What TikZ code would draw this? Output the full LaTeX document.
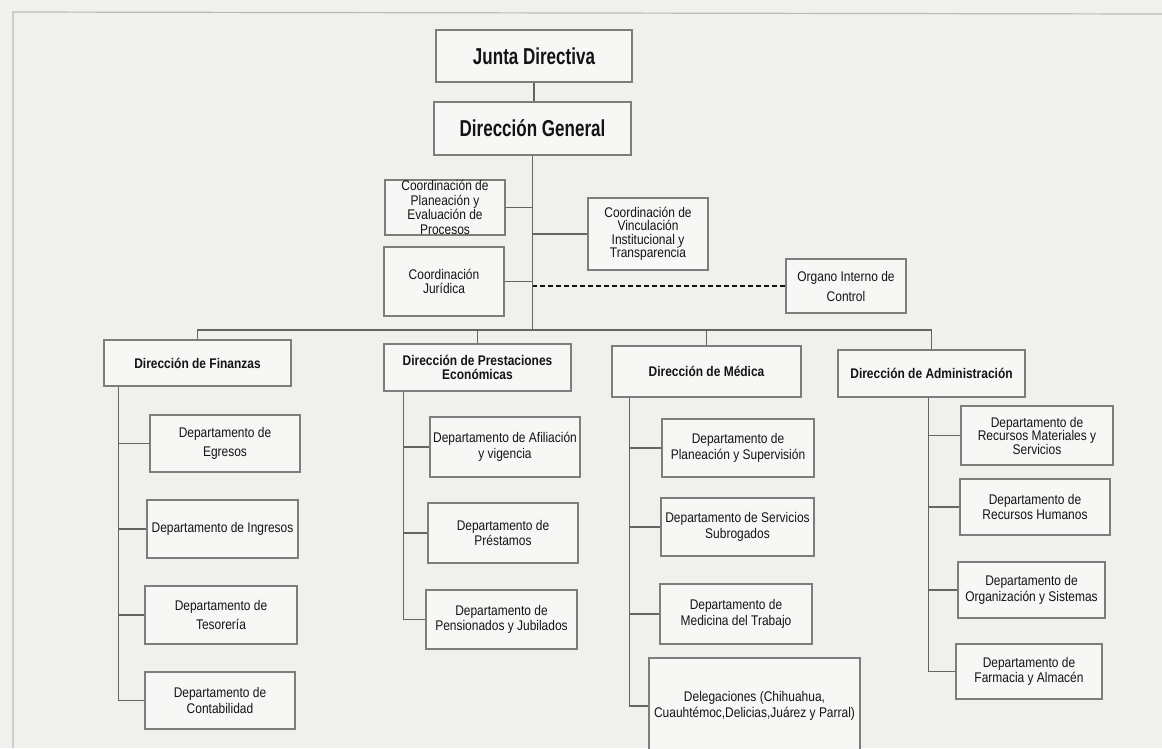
\documentclass[tikz,border=0pt]{standalone}
\usepackage{fontspec}
\setmainfont{Liberation Sans}[FakeStretch=0.855]
\newfontfamily\condfont{Liberation Sans}[FakeStretch=0.74]
\definecolor{paper}{RGB}{240,240,237}
\definecolor{boxfill}{RGB}{247,247,245}
\definecolor{boxline}{RGB}{125,125,125}
\definecolor{linegray}{RGB}{100,100,100}
\definecolor{ink}{RGB}{20,20,20}

\begin{document}
\begin{tikzpicture}[x=1pt,y=-1pt,
  box/.style={draw=boxline,fill=boxfill,line width=1.1pt,inner sep=0pt,align=center,text=ink},
  wh/.style 2 args={minimum width=#1pt,minimum height=#2pt},
  head/.style={box,font=\condfont\bfseries\fontsize{23}{27}\selectfont},
  dir/.style={box,font=\bfseries\fontsize{14}{14}\selectfont},
  dept/.style={box,font=\fontsize{14}{15.5}\selectfont},
  conn/.style={draw=linegray,line width=1.2pt}]
\useasboundingbox (0,0) rectangle (1162,748);
\fill[paper] (0,0) rectangle (1162,748);
\clip (0,0) rectangle (1162,748);
\draw[gray!55,line width=1.2pt] (13,748) -- (13,12) -- (1162,14);

\node[head,wh={196}{52}] (junta) at (534,56) {Junta Directiva};
\node[head,wh={197}{53}] (dg) at (532.5,128.5) {Dirección General};

\node[dept,wh={120}{55},font=\fontsize{14}{14.5}\selectfont] (plan) at (445,207.5) {Coordinación de\\Planeación y\\Evaluación de\\Procesos};
\node[dept,wh={120}{69},font=\fontsize{14}{13.5}\selectfont] (jur) at (444,281.5) {Coordinación\\Jurídica};
\node[dept,wh={120}{72},font=\fontsize{14}{13.5}\selectfont] (vinc) at (648,234) {Coordinación de\\Vinculación\\Institucional y\\Transparencia};
\node[dept,wh={120}{54},font=\fontsize{14}{20}\selectfont] (org) at (846,286) {Organo Interno de\\Control};

\node[dir,wh={187}{46}] (fin) at (197.5,363) {Dirección de Finanzas};
\node[dir,wh={187}{47}] (prest) at (477.5,367.5) {Dirección de Prestaciones\\Económicas};
\node[dir,wh={189}{51}] (med) at (706.5,371.5) {Dirección de Médica};
\node[dir,wh={187}{47}] (adm) at (931.5,373.5) {Dirección de Administración};

\node[dept,wh={150}{57},font=\fontsize{14}{19}\selectfont] (egr) at (225,443.5) {Departamento de\\Egresos};
\node[dept,wh={151}{58}] (ing) at (222.5,529) {Departamento de Ingresos};
\node[dept,wh={152}{58},font=\fontsize{14}{19}\selectfont] (tes) at (221,615) {Departamento de\\Tesorería};
\node[dept,wh={150}{57}] (cont) at (220,700.5) {Departamento de\\Contabilidad};

\node[dept,wh={150}{60}] (afil) at (505,447) {Departamento de Afiliación\\y vigencia};
\node[dept,wh={150}{60}] (prst) at (503,533) {Departamento de\\Préstamos};
\node[dept,wh={151}{59}] (pens) at (501.5,619.5) {Departamento de\\Pensionados y Jubilados};

\node[dept,wh={152}{58}] (psup) at (738,448) {Departamento de\\Planeación y Supervisión};
\node[dept,wh={153}{58}] (subr) at (737.5,527) {Departamento de Servicios\\Subrogados};
\node[dept,wh={152}{60}] (mtrab) at (736,614) {Departamento de\\Medicina del Trabajo};
\node[dept,wh={211}{96}] (deleg) at (754.5,706) {Delegaciones (Chihuahua,\\Cuauhtémoc,Delicias,Juárez y Parral)};

\node[dept,wh={152}{59},font=\fontsize{14}{13.5}\selectfont] (rmat) at (1037,435.5) {Departamento de\\Recursos Materiales y\\Servicios};
\node[dept,wh={150}{56}] (rhum) at (1035,507) {Departamento de\\Recursos Humanos};
\node[dept,wh={147}{56}] (orgs) at (1031.5,590) {Departamento de\\Organización y Sistemas};
\node[dept,wh={146}{55}] (farm) at (1029,671.5) {Departamento de\\Farmacia y Almacén};

\coordinate (bus) at (532,330);
\draw[conn] (junta.south) -- (junta.south |- dg.north);
\draw[conn] (dg.south) -- (dg.south |- bus);
\draw[conn] (plan.east) -- (plan.east -| dg.south);
\draw[conn] (vinc.west) -- (vinc.west -| dg.south);
\draw[conn] (jur.east) -- (jur.east -| dg.south);
\draw[conn,draw=ink,dash pattern=on 5pt off 3pt] (org.west) -- (org.west -| dg.south);
\draw[conn] (fin.north) |- (bus) -| (adm.north);
\foreach \d in {prest,med}
  \draw[conn] (\d.north) -- (\d.north |- bus);

\path (fin.south west) ++(15,0) coordinate (finsp);
\path (prest.south west) ++(20,0) coordinate (prestsp);
\path (med.south west) ++(18,0) coordinate (medsp);
\path (adm.south) ++(-3,0) coordinate (admsp);
\draw[conn] (finsp) |- (cont.west);
\draw[conn] (prestsp) |- (pens.west);
\draw[conn] (medsp) |- (deleg.west);
\draw[conn] (admsp) |- (farm.west);
\foreach \d in {egr,ing,tes}
  \draw[conn] (\d.west) -- (\d.west -| finsp);
\foreach \d in {afil,prst}
  \draw[conn] (\d.west) -- (\d.west -| prestsp);
\foreach \d in {psup,subr,mtrab}
  \draw[conn] (\d.west) -- (\d.west -| medsp);
\foreach \d in {rmat,rhum,orgs}
  \draw[conn] (\d.west) -- (\d.west -| admsp);
\end{tikzpicture}
\end{document}
